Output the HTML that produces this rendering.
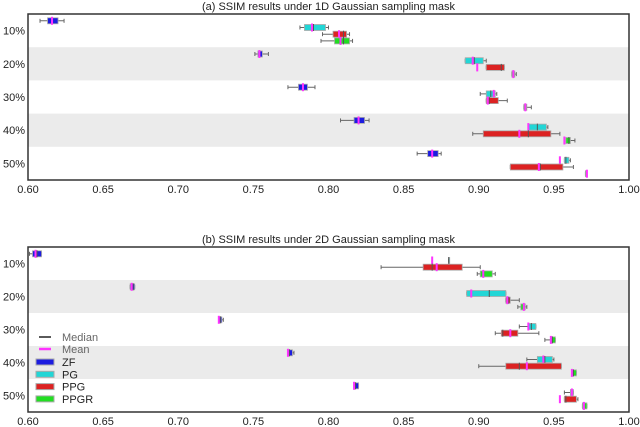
<!DOCTYPE html>
<html><head><meta charset="utf-8"><style>
body{margin:0;background:#fff;}
svg{display:block;font-family:"Liberation Sans",sans-serif;}
</style></head><body>
<svg id="s" width="640" height="427" viewBox="0 0 640 427" xmlns="http://www.w3.org/2000/svg"></svg>
<script>
const groups = ["10%","20%","30%","40%","50%"];
const methods = ["ZF","PG","PPG","PPGR"];
const colors = ["#1c1ce0","#22d6d6","#dc2222","#22de22"];
const xTicks = [0.60,0.65,0.70,0.75,0.80,0.85,0.90,0.95,1.00];
// each entry: [lo, q1, median, q3, hi, mean]
const dataA = [
 [[0.608,0.613,0.616,0.620,0.624,0.616],[0.781,0.784,0.790,0.798,0.800,0.789],[0.796,0.803,0.810,0.812,0.814,0.807],[0.795,0.804,0.810,0.814,0.816,0.808]],
 [[0.751,0.753,0.754,0.756,0.760,0.754],[0.891,0.891,0.897,0.903,0.905,0.896],[0.905,0.905,0.915,0.917,0.917,0.899],[0.922,0.922,0.923,0.924,0.925,0.923]],
 [[0.773,0.780,0.783,0.786,0.791,0.783],[0.901,0.905,0.908,0.911,0.912,0.910],[0.905,0.905,0.907,0.913,0.919,0.906],[0.930,0.930,0.931,0.932,0.935,0.931]],
 [[0.808,0.817,0.820,0.824,0.827,0.820],[0.933,0.933,0.939,0.945,0.946,0.933],[0.896,0.903,0.933,0.948,0.954,0.927],[0.958,0.958,0.960,0.961,0.964,0.957]],
 [[0.859,0.866,0.869,0.873,0.875,0.869],[0.957,0.957,0.958,0.960,0.961,0.954],[0.921,0.921,0.941,0.956,0.963,0.940],[0.971,0.971,0.972,0.972,0.972,0.972]]
];
const dataB = [
 [[0.601,0.603,0.606,0.609,0.609,0.605],[0.880,0.880,0.880,0.880,0.880,0.869],[0.835,0.863,0.869,0.889,0.901,0.872],[0.899,0.901,0.903,0.909,0.911,0.903]],
 [[0.668,0.668,0.670,0.671,0.671,0.669],[0.892,0.892,0.907,0.918,0.918,0.895],[0.918,0.918,0.920,0.921,0.927,0.919],[0.926,0.928,0.930,0.931,0.932,0.930]],
 [[0.727,0.727,0.728,0.729,0.730,0.727],[0.927,0.933,0.935,0.938,0.938,0.933],[0.911,0.915,0.916,0.926,0.940,0.921],[0.944,0.948,0.949,0.951,0.951,0.948]],
 [[0.773,0.773,0.774,0.776,0.777,0.773],[0.932,0.939,0.944,0.949,0.950,0.943],[0.900,0.918,0.927,0.955,0.955,0.932],[0.962,0.962,0.963,0.965,0.965,0.962]],
 [[0.817,0.817,0.818,0.820,0.820,0.817],[0.957,0.961,0.962,0.963,0.963,0.962],[0.957,0.957,0.958,0.965,0.966,0.954],[0.969,0.969,0.970,0.972,0.972,0.970]]
];
const svg=document.getElementById('s');
const NS="http://www.w3.org/2000/svg";
function mk(tag,attrs,parent){const e=document.createElementNS(NS,tag);for(const k in attrs)e.setAttribute(k,attrs[k]);(parent||svg).appendChild(e);return e;}
const L=28,R=629;
function xs(v){return L+(v-0.6)/0.4*(R-L);}
function chart(data,top,bottom,title,name){
  const g=mk('g',{});
  
  
  const gh=(bottom-top)/groups.length;
  groups.forEach((lab,i)=>{
    if(i%2===1){const b=mk('rect',{x:L,y:top+i*gh,width:R-L,height:gh,fill:'#ebebeb'},g);
      
      }
    const t=mk('text',{x:25,y:top+i*gh+gh/2+4,'text-anchor':'end','font-size':11,fill:'#222'},g);
    t.textContent=lab;
    
    
  });
  data.forEach((grp,i)=>{
    grp.forEach((d,j)=>{
      const cy=top+i*gh+6.8+j*6.7;
      const bg=mk('g',{},g);
      
      
      mk('line',{x1:xs(d[0]),x2:xs(d[4]),y1:cy,y2:cy,stroke:'#666','stroke-width':1},bg);
      mk('line',{x1:xs(d[0]),x2:xs(d[0]),y1:cy-2,y2:cy+2,stroke:'#666'},bg);
      mk('line',{x1:xs(d[4]),x2:xs(d[4]),y1:cy-2,y2:cy+2,stroke:'#666'},bg);
      mk('rect',{x:xs(d[1]),y:cy-3,width:Math.max(xs(d[3])-xs(d[1]),1),height:6,fill:colors[j],stroke:'#aaa','stroke-width':0.8},bg);
      mk('line',{x1:xs(d[2]),x2:xs(d[2]),y1:cy-3.5,y2:cy+3.5,stroke:'#555','stroke-width':1},bg);
      mk('line',{x1:xs(d[5]),x2:xs(d[5]),y1:cy-4,y2:cy+4,stroke:'#ff33ff','stroke-width':2},bg);
    });
  });
  mk('rect',{x:L,y:top,width:R-L,height:bottom-top,fill:'none',stroke:'#333','stroke-width':1.5},g);
  xTicks.forEach(v=>{
    const t=mk('text',{x:xs(v),y:bottom+13,'text-anchor':'middle','font-size':11,fill:'#222'},g);
    t.textContent=v.toFixed(2);
    
    
  });
  const tt=mk('text',{x:(L+R)/2,y:top-4,'text-anchor':'middle','font-size':11,fill:'#222'},g);
  tt.textContent=title;
  
  
}
chart(dataA,14,180,"(a) SSIM results under 1D Gaussian sampling mask","chart-1d");
chart(dataB,247,412,"(b) SSIM results under 2D Gaussian sampling mask","chart-2d");
// legend
const lg=mk('g',{});


mk('line',{x1:39,x2:51,y1:337,y2:337,stroke:'#222','stroke-width':1.5},lg);
mk('line',{x1:39,x2:51,y1:349,y2:349,stroke:'#ff33ff','stroke-width':2.5},lg);
const lt=mk('text',{x:62,y:341,'font-size':11,fill:'#666'},lg);lt.textContent='Median';
const lt2=mk('text',{x:62,y:353,'font-size':11,fill:'#666'},lg);lt2.textContent='Mean';
methods.forEach((m,j)=>{
  const y=362+j*12.3;
  mk('rect',{x:36,y:y-3,width:18,height:6,fill:colors[j],stroke:'#aaa','stroke-width':1},lg);
  const t=mk('text',{x:62,y:y+4,'font-size':11,fill:'#222'},lg);
  t.textContent=m;
  
  
});
</script>
</body></html>
